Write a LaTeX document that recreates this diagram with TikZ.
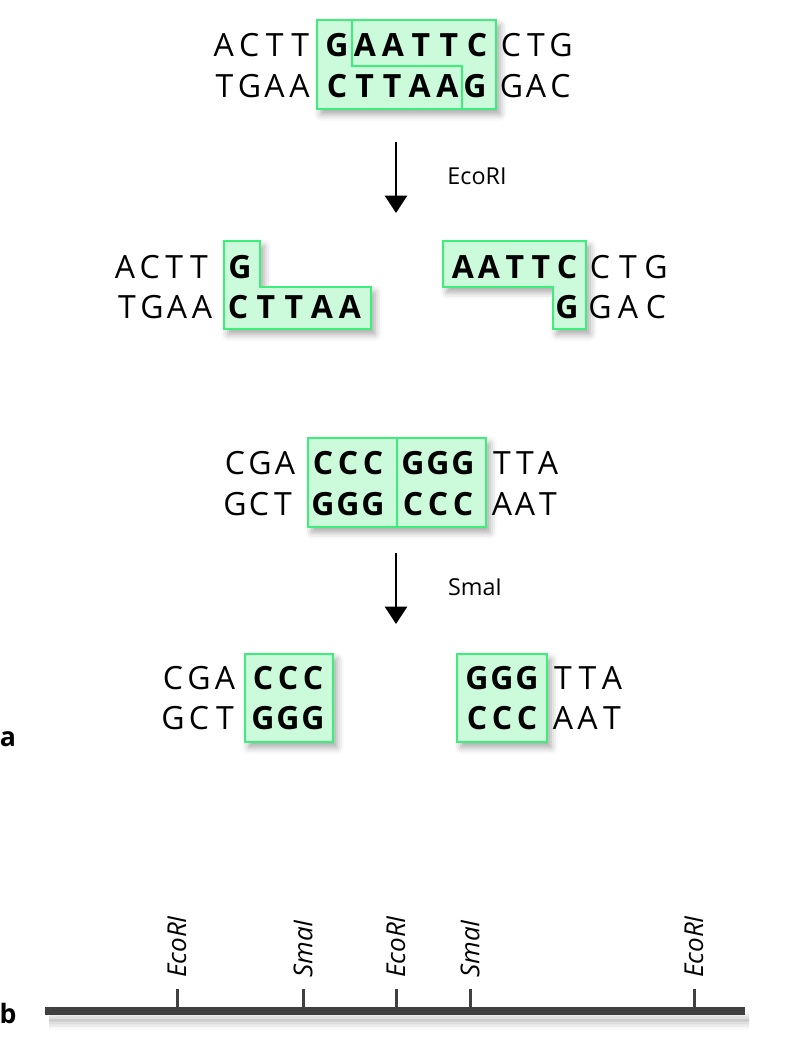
\documentclass[tikz,border=0pt]{standalone}
\usepackage{fontspec}
\setmainfont{Open Sans}
\usepackage{tikz}
\usetikzlibrary{arrows.meta,shadows.blur}
\definecolor{Mint}{HTML}{CCFBDC}
\definecolor{Leaf}{HTML}{3DEE7A}
\definecolor{Shade}{HTML}{404040}
\newdimen\unitpx \unitpx=0.75pt
\makeatletter
\newcommand{\dna}[2]{\def\dna@w{#1\unitpx}\dna@a#2\@nil}
\def\dna@a#1#2\@nil{\makebox[\dna@w]{#1}\ifx\relax#2\relax\else\dna@a#2\@nil\fi}
\makeatother
\tikzset{
  seq/.style={inner sep=0pt,font=\fontsize{24}{28}\selectfont},
  seqb/.style={inner sep=0pt,font=\fontsize{24}{28}\selectfont\bfseries},
  cutbox/.style={draw=Leaf,fill=Mint,line width=1.5pt,
    blur shadow={shadow xshift=3pt,shadow yshift=-4pt,shadow blur radius=5pt,shadow opacity=35}},
  cutline/.style={draw=Leaf,line width=1.5pt},
  digest/.style={-{Triangle[width=16.5pt,length=13pt]},line width=1.9pt,draw=black},
  enzyme/.style={inner sep=0pt,font=\fontsize{17.5}{21}\selectfont},
  site/.style={inner sep=0pt,anchor=west,rotate=90,font=\fontsize{19.5}{23}\selectfont\itshape},
  panel/.style={inner sep=0pt,font=\fontsize{20}{24}\selectfont\bfseries},
  mapline/.style={draw=Shade,line width=6pt,
    blur shadow={shadow xshift=3pt,shadow yshift=-7pt,shadow blur radius=7pt,shadow opacity=40}},
  maptick/.style={draw=Shade,line width=2.25pt},
}

\begin{document}
\begin{tikzpicture}[x=0.75pt,y=-0.75pt]
    \useasboundingbox (0,0) rectangle (785,1053);

    \path[cutbox] (317,20) rectangle (496,109);
    \node[seq] (e1a) at (262,45) {\dna{25.5}{ACTT}};
    \node[seqb] (e1b) at (407,45) {\dna{28}{GAATTC}};
    \node[seq] (e1c) at (536,45) {\dna{25}{CTG}};
    \node[seq] (e2a) at (262,86) {\dna{25}{TGAA}};
    \node[seqb] (e2b) at (406,86) {\dna{27.6}{CTTAAG}};
    \node[seq] (e2c) at (536,86) {\dna{24.5}{GAC}};
    \draw[cutline] (352,20) -- (352,66) -- (462,66) -- (462,109);

    \coordinate (eco-from) at (396,142);
    \coordinate (eco-to) at (396,213);
    \draw[digest] (eco-from) -- (eco-to);
    \node[enzyme] (eco-lab) at (477,176) {EcoRI};

    \path[cutbox] (224,241) -- (260,241) -- (260,287) -- (371,287) -- (371,329) -- (224,329) -- cycle;
    \path[cutbox] (443,241) -- (586,241) -- (586,329) -- (553,329) -- (553,287) -- (443,287) -- cycle;
    \node[seq] (f1a) at (162,267) {\dna{24.7}{ACTT}};
    \node[seqb] (f1b) at (240,267) {\dna{28}{G}};
    \node[seq] (f2a) at (164.5,307) {\dna{25}{TGAA}};
    \node[seqb] (f2b) at (294,307) {\dna{28}{CTTAA}};
    \node[seqb] (f1c) at (515,267) {\dna{26}{AATTC}};
    \node[seq] (f1d) at (628,267) {\dna{28}{CTG}};
    \node[seqb] (f2c) at (567,307) {\dna{28}{G}};
    \node[seq] (f2d) at (628,307) {\dna{28}{GAC}};

    \path[cutbox] (308,438) rectangle (486,527);
    \node[seq] (s1a) at (260,463) {\dna{25}{CGA}};
    \node[seqb] (s1b) at (348,463) {\dna{25}{CCC}};
    \node[seqb] (s1c) at (438,463) {\dna{25}{GGG}};
    \node[seq] (s1d) at (525,463) {\dna{23}{TTA}};
    \node[seq] (s2a) at (259,504) {\dna{24}{GCT}};
    \node[seqb] (s2b) at (348,504) {\dna{25}{GGG}};
    \node[seqb] (s2c) at (438,504) {\dna{25}{CCC}};
    \node[seq] (s2d) at (525,504) {\dna{23}{AAT}};
    \draw[cutline] (397,438) -- (397,527);

    \coordinate (sma-from) at (396,553);
    \coordinate (sma-to) at (396,624);
    \draw[digest] (sma-from) -- (sma-to);
    \node[enzyme] (sma-lab) at (475,587) {SmaI};

    \path[cutbox] (245,654) rectangle (333,742);
    \path[cutbox] (457,654) rectangle (547,742);
    \node[seq] (g1a) at (199,678) {\dna{26}{CGA}};
    \node[seqb] (g1b) at (288,678) {\dna{25}{CCC}};
    \node[seq] (g2a) at (199,718) {\dna{26}{GCT}};
    \node[seqb] (g2b) at (288,718) {\dna{25}{GGG}};
    \node[seqb] (g1c) at (502,678) {\dna{25}{GGG}};
    \node[seq] (g1d) at (587.5,678) {\dna{24.5}{TTA}};
    \node[seqb] (g2c) at (502,718) {\dna{25}{CCC}};
    \node[seq] (g2d) at (587.5,718) {\dna{24.5}{AAT}};

    \node[panel] (pa) at (8,739) {a};
    \node[panel] (pb) at (8,1013) {b};

    \coordinate (m1) at (177,1011);
    \coordinate (m2) at (303,1011);
    \coordinate (m3) at (396,1011);
    \coordinate (m4) at (470,1011);
    \coordinate (m5) at (694,1011);
    \draw[maptick] (m1) -- ++(0,-22);
    \draw[maptick] (m2) -- ++(0,-22);
    \draw[maptick] (m3) -- ++(0,-22);
    \draw[maptick] (m4) -- ++(0,-22);
    \draw[maptick] (m5) -- ++(0,-22);
    \node[site] (m1-lab) at (177,978) {EcoRI};
    \node[site] (m2-lab) at (303,978) {SmaI};
    \node[site] (m3-lab) at (396,978) {EcoRI};
    \node[site] (m4-lab) at (470,978) {SmaI};
    \node[site] (m5-lab) at (694,978) {EcoRI};

    \coordinate (map-l) at (45,1011);
    \coordinate (map-r) at (745,1011);
    \draw[mapline] (map-l) -- (map-r);
\end{tikzpicture}
\end{document}
